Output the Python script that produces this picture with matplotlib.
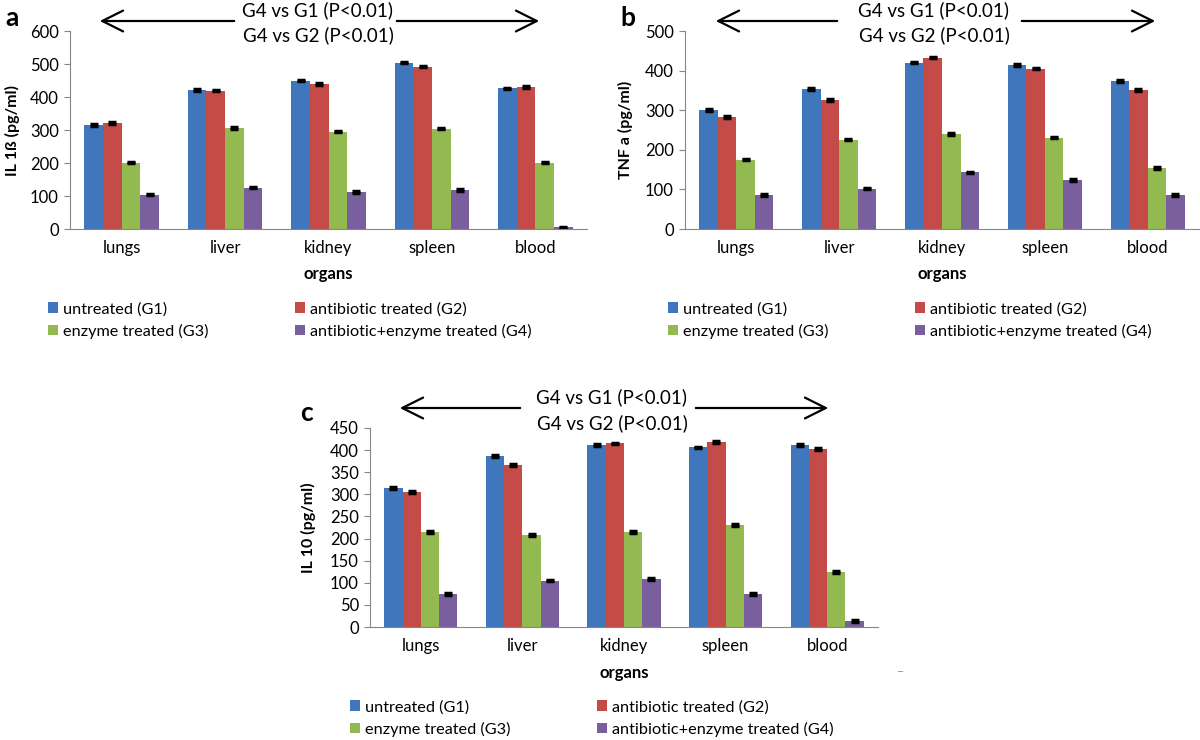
import matplotlib
matplotlib.use('Agg')
import matplotlib.pyplot as plt
import numpy as np

plt.rcParams['font.family'] = ['Lato', 'DejaVu Sans']

W, H = 1200, 740

organs = ['lungs', 'liver', 'kidney', 'spleen', 'blood']
groups = ['untreated (G1)', 'antibiotic treated (G2)',
          'enzyme treated (G3)', 'antibiotic+enzyme treated (G4)']
colors = ['#3F76BC', '#C44B48', '#93BA50', '#7A5F9E']

# panel a: IL 1ß
il1b_g1 = [315, 421, 450, 504, 426]
il1b_g2 = [321, 419, 439, 492, 430]
il1b_g3 = [201, 306, 295, 304, 201]
il1b_g4 = [104, 125, 112, 118, 5]

# panel b: TNF a
tnf_g1 = [301, 354, 420, 414, 374]
tnf_g2 = [283, 326, 433, 405, 351]
tnf_g3 = [175, 226, 240, 231, 154]
tnf_g4 = [86, 102, 143, 124, 86]

# panel c: IL 10
il10_g1 = [314, 387, 411, 406, 411]
il10_g2 = [306, 367, 415, 419, 402]
il10_g3 = [214, 208, 214, 231, 125]
il10_g4 = [75, 105, 108, 75, 13]

err = 2.0


def px_rect(left, top, right, bottom):
    return [left / W, 1 - bottom / H, (right - left) / W, (bottom - top) / H]


def fx(x):
    return x / W


def fy(y):
    return 1 - y / H


def panel(fig, rect, series, ymax, ystep, ylabel, ylab_x, letter, letter_xy,
          arrow, text_xy, organs_y, leg_xy):
    ax = fig.add_axes(rect)
    x = np.arange(len(organs))
    w = 0.18
    handles = []
    for i, vals in enumerate(series):
        b = ax.bar(x + (i - 1.5) * w, vals, w, color=colors[i], label=groups[i],
                   yerr=err, error_kw=dict(ecolor='black', elinewidth=1,
                                           capsize=3, capthick=2.5))
        handles.append(b)
    ax.set_xlim(-0.5, len(organs) - 0.5)
    ax.set_ylim(0, ymax)
    ax.set_yticks(np.arange(0, ymax + 1, ystep))
    ax.set_xticks(x)
    ax.set_xticklabels(organs, fontsize=12)
    ax.tick_params(axis='x', length=0, pad=8)
    ax.tick_params(axis='y', length=4, color='#868686', labelsize=12, pad=4)
    for s in ['top', 'right']:
        ax.spines[s].set_visible(False)
    ax.spines['left'].set_color('#868686')
    ax.spines['bottom'].set_color('#868686')

    # labels
    x0, x1 = rect[0], rect[0] + rect[2]
    fig.text(fx(ylab_x), rect[1] + rect[3] / 2, ylabel, rotation=90,
             fontsize=11.5, fontweight='bold', ha='center', va='center')
    fig.text((x0 + x1) / 2, fy(organs_y), 'organs', fontsize=12,
             fontweight='bold', ha='center', va='center')
    fig.text(fx(letter_xy[0]), fy(letter_xy[1]), letter, fontsize=19,
             fontweight='bold', ha='left', va='center')

    # significance arrows
    lh, le, rs, rh, ay = arrow
    for a, b in [(le, lh), (rs, rh)]:
        fig.add_artist(matplotlib.patches.FancyArrowPatch(
            (fx(a), fy(ay)), (fx(b), fy(ay)), transform=fig.transFigure,
            arrowstyle='->,head_length=10,head_width=5', mutation_scale=1.5,
            lw=1.6, color='black'))
    tx, ty1, ty2 = text_xy
    fig.text(fx(tx), fy(ty1), 'G4 vs G1 (P<0.01)', fontsize=13.5,
             ha='center', va='center')
    fig.text(fx(tx), fy(ty2), 'G4 vs G2 (P<0.01)', fontsize=13.5,
             ha='center', va='center')

    # legend filled row by row: G1 G2 / G3 G4
    order = [0, 2, 1, 3]
    fig.legend(handles=[handles[i] for i in order],
               labels=[groups[i] for i in order],
               loc='upper left', ncol=2,
               bbox_to_anchor=(fx(leg_xy[0]), fy(leg_xy[1])),
               frameon=False, fontsize=11.7, handlelength=0.6,
               handleheight=0.6, handletextpad=0.35, columnspacing=5.3,
               labelspacing=0.45, borderpad=0, borderaxespad=0)
    return ax


fig = plt.figure(figsize=(W / 100, H / 100), dpi=100)

panel(fig, px_rect(70, 31, 587, 229),
      [il1b_g1, il1b_g2, il1b_g3, il1b_g4], 600, 100, 'IL 1ß (pg/ml)', 12,
      'a', (5, 18), (97, 237, 394, 542, 21), (318, 10, 35), 274,
      (48, 302))

panel(fig, px_rect(685, 31, 1199, 229),
      [tnf_g1, tnf_g2, tnf_g3, tnf_g4], 500, 100, 'TNF a (pg/ml)', 625,
      'b', (620, 18), (713, 840, 1019, 1158, 21), (934, 10, 35), 274,
      (668, 302))

panel(fig, px_rect(370, 428, 878, 627),
      [il10_g1, il10_g2, il10_g3, il10_g4], 450, 50, 'IL 10 (pg/ml)', 308,
      'c', (300, 413), (397, 523, 693, 831, 408), (612, 397, 423), 673,
      (350, 700))

fig.text(fx(901), fy(672), '\u2013', fontsize=9, color='#999999',
         ha='center', va='center')

fig.savefig('out.png', dpi=100)
